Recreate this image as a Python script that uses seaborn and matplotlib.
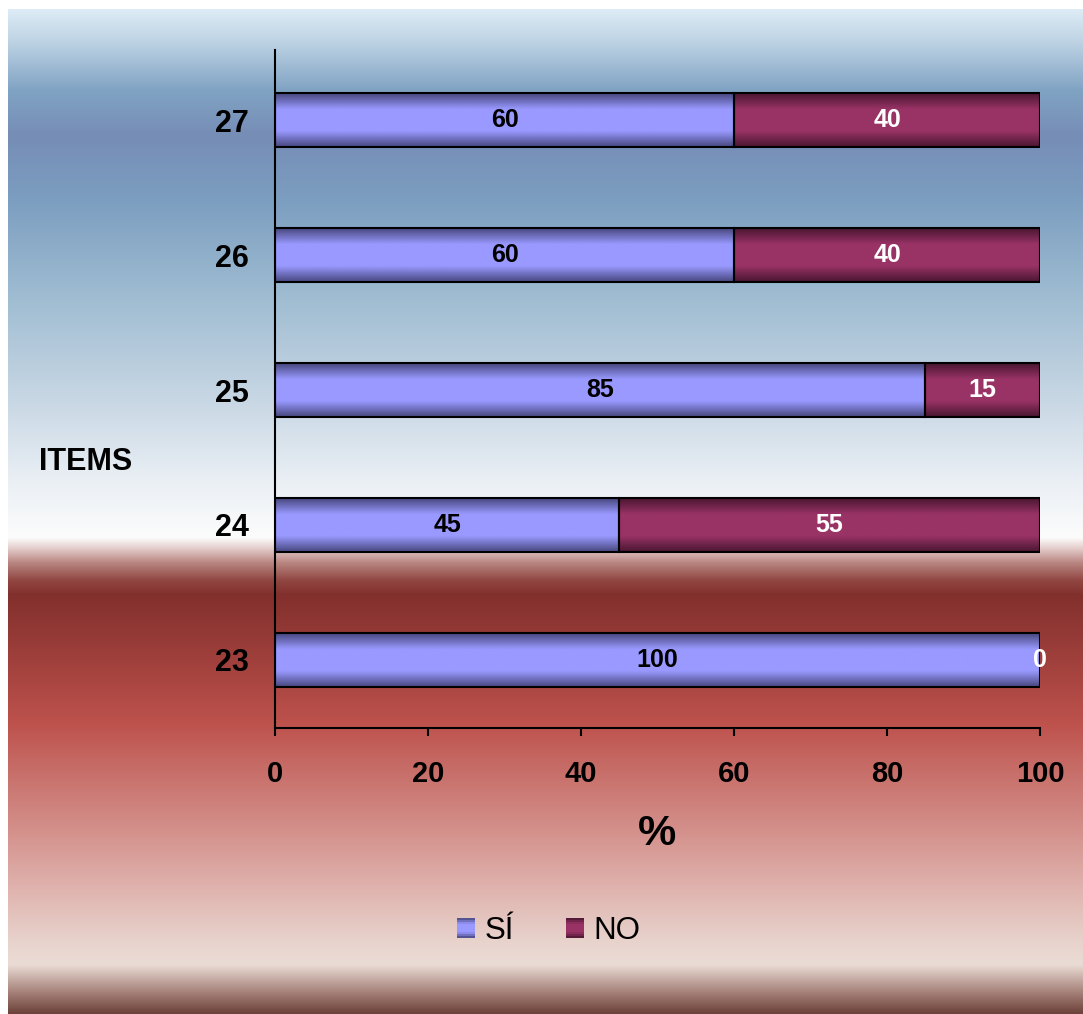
import numpy as np
import pandas as pd
import matplotlib
matplotlib.use("Agg")
import matplotlib.pyplot as plt
import seaborn as sns
from matplotlib.patches import Rectangle
from matplotlib.legend_handler import HandlerBase


# Data (percent per item)
items = ['23', '24', '25', '26', '27']
si_vals = [100, 45, 85, 60, 60]
no_vals = [0, 55, 15, 40, 40]

df = pd.DataFrame({'ITEM': items, 'SI': si_vals, 'NO': no_vals})
order = items[::-1]
si_map = dict(zip(items, si_vals))
no_map = dict(zip(items, no_vals))

# Bar colours (dark edge, light centre)
si_dark, si_light = (70, 70, 125), (153, 153, 255)
no_dark, no_light = (72, 22, 48), (153, 51, 102)

# Background gradient stops (pixel row, rgb)
bg_stops = [
    (9, (222, 236, 246)), (45, (185, 208, 226)), (90, (128, 163, 195)),
    (135, (118, 141, 182)), (200, (124, 158, 192)), (300, (160, 189, 210)),
    (400, (200, 215, 228)), (483, (235, 240, 245)), (537, (252, 252, 252)),
    (548, (228, 205, 203)), (562, (185, 135, 130)), (580, (145, 70, 66)),
    (594, (130, 48, 45)), (660, (160, 64, 60)), (724, (190, 82, 77)),
    (774, (200, 112, 107)), (840, (214, 150, 145)), (890, (224, 180, 175)),
    (940, (232, 210, 204)), (964, (234, 220, 213)), (990, (170, 135, 127)),
    (1014, (105, 62, 55)),
]


def band_colors(dark, light, n):
    t = (np.arange(n) + 0.5) / n
    w = np.clip((1 - np.abs(2 * t - 1)) / 0.6, 0, 1)
    dark = np.array(dark) / 255
    light = np.array(light) / 255
    return dark + (light - dark) * w[:, None]


class GradHandler(HandlerBase):
    def __init__(self, dark, light):
        super().__init__()
        self.cols = band_colors(dark, light, 10)

    def create_artists(self, legend, orig_handle, xdescent, ydescent,
                       width, height, fontsize, trans):
        n = len(self.cols)
        arts = []
        for i, c in enumerate(self.cols):
            arts.append(Rectangle((-xdescent, -ydescent + height * (n - 1 - i) / n),
                                  width, height / n * 1.05, facecolor=c,
                                  edgecolor='none', transform=trans))
        return arts


sns.set_style("white")
plt.rcParams['font.family'] = ['Liberation Sans', 'DejaVu Sans']
plt.rcParams.update({'text.color': 'black', 'axes.labelcolor': 'black',
                     'xtick.color': 'black', 'ytick.color': 'black'})

fig = plt.figure(figsize=(10.83, 10.14), dpi=100, facecolor='white')

# background gradient
rows = np.arange(9, 1014)
ys = [s[0] for s in bg_stops]
grad = np.stack([np.interp(rows, ys, [s[1][k] for s in bg_stops]) for k in range(3)], axis=1) / 255
bg = fig.add_axes([8 / 1083, 0, 1075 / 1083, 1005 / 1014])
bg.imshow(grad[:, None, :], aspect='auto', extent=[0, 1, 0, 1])
bg.axis('off')

ax = fig.add_axes([275 / 1083, 1 - 728 / 1014, 765 / 1083, 678 / 1014])
ax.set_facecolor('none')

sns.barplot(data=df, x='SI', y='ITEM', order=order, orient='h',
            color=np.array(si_light) / 255, saturation=1, width=0.4,
            errorbar=None, edgecolor='black', linewidth=1.5, ax=ax)
n_si = len(ax.patches)
sns.barplot(data=df, x='NO', y='ITEM', order=order, orient='h',
            color=np.array(no_light) / 255, saturation=1, width=0.4,
            errorbar=None, edgecolor='black', linewidth=1.5, ax=ax)
si_bars = ax.patches[:n_si]
no_bars = ax.patches[n_si:]

# stack NO after SI
for p, it in zip(no_bars, order):
    p.set_x(si_map[it])

# gradient fill inside each bar
for bars, dark, light in [(si_bars, si_dark, si_light), (no_bars, no_dark, no_light)]:
    cols = band_colors(dark, light, 64)
    for p in bars:
        x0, y0, w, h = p.get_x(), p.get_y(), p.get_width(), p.get_height()
        if w == 0:
            continue
        im = ax.imshow(cols[:, None, :], extent=[x0, x0 + w, y0 + h, y0],
                       aspect='auto', interpolation='bilinear', zorder=1.5)
        im.set_clip_path(p)
        p.set_facecolor('none')
        p.set_zorder(2)

ax.bar_label(ax.containers[0], labels=[str(si_map[i]) for i in order],
             label_type='center', fontsize=18, fontweight='bold', color='black')
ax.bar_label(ax.containers[1], labels=[str(no_map[i]) for i in order],
             label_type='center', fontsize=18, fontweight='bold', color='white')

ax.set_xlim(0, 100)
ax.set_ylim(4.504, -0.519)
ax.set_xticks([0, 20, 40, 60, 80, 100])

for s in ['top', 'right']:
    ax.spines[s].set_visible(False)
for s in ['left', 'bottom']:
    ax.spines[s].set_color('black')
    ax.spines[s].set_linewidth(1.5)

ax.tick_params(axis='x', length=5.8, width=1.5, pad=17, labelsize=21, bottom=True, color='black')
ax.tick_params(axis='y', length=0, pad=19, labelsize=22)
for lab in ax.get_xticklabels() + ax.get_yticklabels():
    lab.set_fontweight('bold')

ax.set_xlabel('%', fontsize=31, fontweight='bold', va='center')
ax.xaxis.set_label_coords(0.4993, -0.1563)
ax.set_ylabel('ITEMS', rotation=0, fontsize=22, fontweight='bold', va='center', ha='center')
ax.yaxis.set_label_coords(-0.2477, 0.392)

h1 = Rectangle((0, 0), 1, 1)
h2 = Rectangle((0, 0), 1, 1)
fig.legend([h1, h2], ['SÍ', 'NO'], handler_map={h1: GradHandler(si_dark, si_light),
                                                 h2: GradHandler(no_dark, no_light)},
           loc='center', bbox_to_anchor=(0.5065, 0.0818), ncol=2, frameon=False,
           fontsize=22.5, handlelength=0.6, handleheight=0.64, handletextpad=0.29,
           columnspacing=1.66)

fig.savefig('out.png', dpi=100, facecolor='white')
